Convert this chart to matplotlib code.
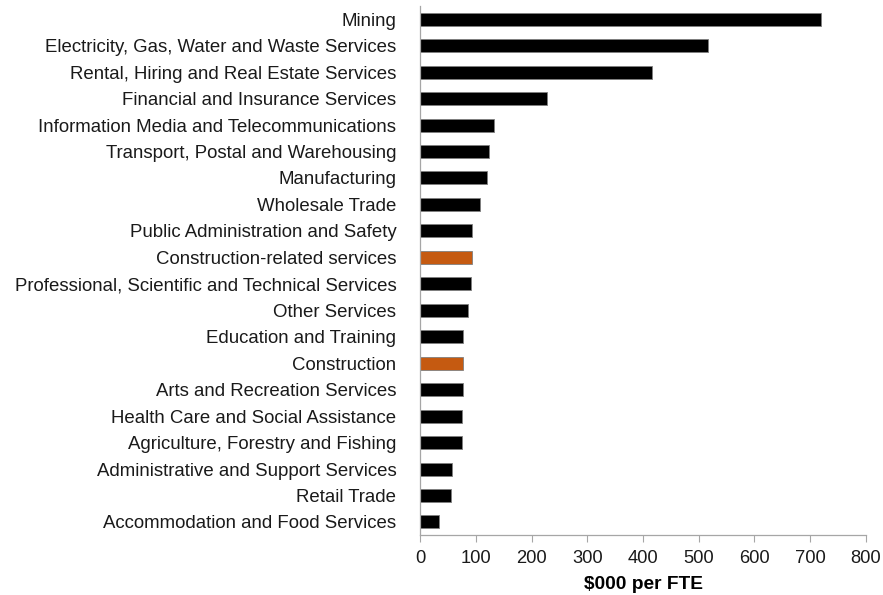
import matplotlib
matplotlib.use("Agg")
import matplotlib.pyplot as plt

plt.rcParams['font.family'] = ['Liberation Sans', 'DejaVu Sans']

industries = [
    "Mining",
    "Electricity, Gas, Water and Waste Services",
    "Rental, Hiring and Real Estate Services",
    "Financial and Insurance Services",
    "Information Media and Telecommunications",
    "Transport, Postal and Warehousing",
    "Manufacturing",
    "Wholesale Trade",
    "Public Administration and Safety",
    "Construction-related services",
    "Professional, Scientific and Technical Services",
    "Other Services",
    "Education and Training",
    "Construction",
    "Arts and Recreation Services",
    "Health Care and Social Assistance",
    "Agriculture, Forestry and Fishing",
    "Administrative and Support Services",
    "Retail Trade",
    "Accommodation and Food Services",
]
value_per_fte = [720, 516, 417, 227, 132, 123, 120, 107, 93, 93,
                 91, 86, 77, 77, 77, 75, 75, 57, 55, 34]
highlighted = ["Construction-related services", "Construction"]

x_ticks = [0, 100, 200, 300, 400, 500, 600, 700, 800]
x_label = "$000 per FTE"

fig = plt.figure(figsize=(8.83, 5.95), dpi=100)
ax = fig.add_axes([0.4757, 0.1005, 0.505, 0.8895])

colors = ["#C55A11" if name in highlighted else "#000000" for name in industries]
positions = list(range(len(industries)))
ax.barh(positions, value_per_fte, height=0.49, color=colors,
        edgecolor="#7f7f7f", linewidth=0.6)

ax.set_ylim(len(industries) - 0.5, -0.5)
ax.set_yticks(positions)
ax.set_yticklabels(industries, fontsize=13.4, color="#1a1a1a")
ax.tick_params(axis="y", length=0, pad=17)

ax.set_xlim(0, 800)
ax.set_xticks(x_ticks)
ax.set_xticklabels([str(t) for t in x_ticks], fontsize=13.2, color="#1a1a1a")
ax.tick_params(axis="x", length=5, width=0.8, color="#a6a6a6", pad=6)
ax.set_xlabel(x_label, fontsize=13.8, fontweight="bold", labelpad=6)

for side in ["top", "right"]:
    ax.spines[side].set_visible(False)
for side in ["left", "bottom"]:
    ax.spines[side].set_color("#a6a6a6")
    ax.spines[side].set_linewidth(0.9)

fig.savefig("out.png", dpi=100)
